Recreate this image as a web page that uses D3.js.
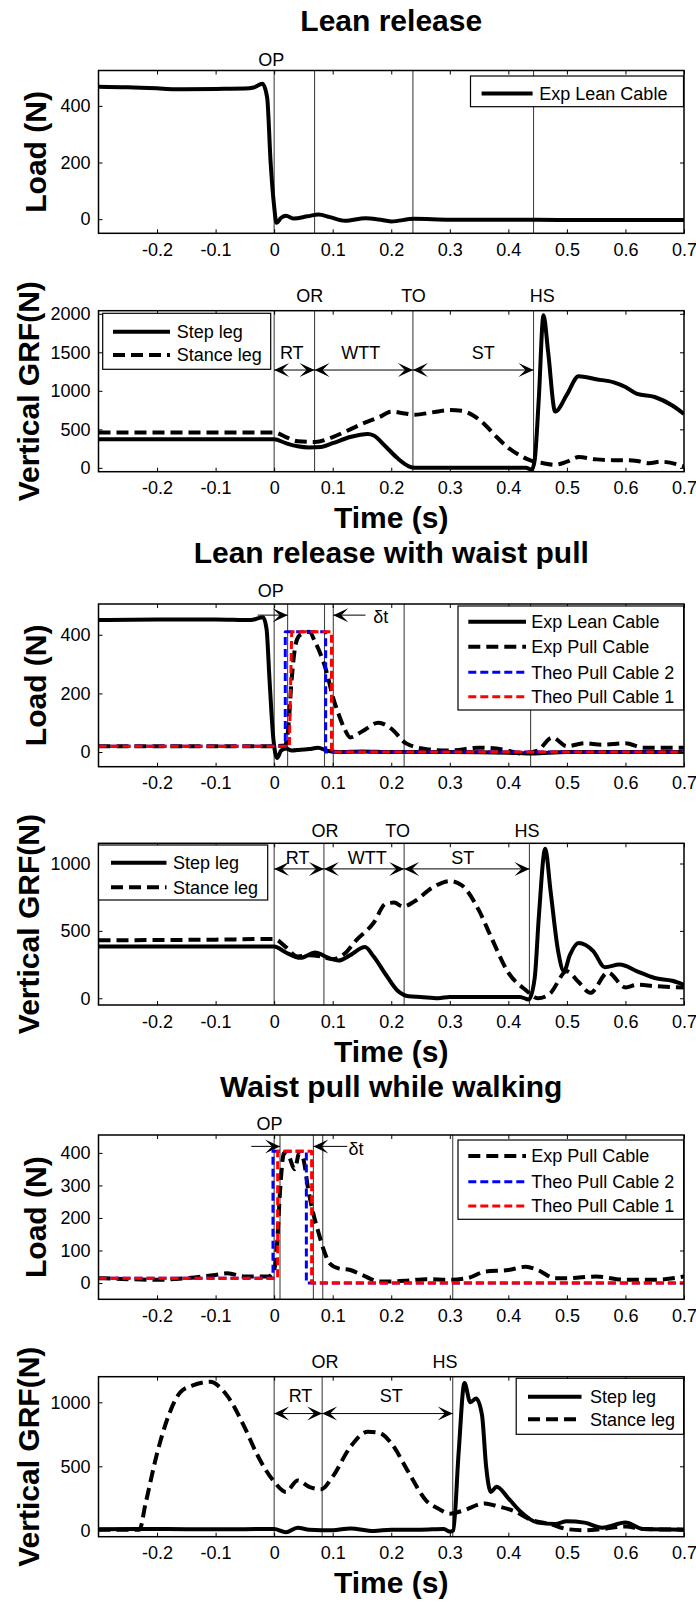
<!DOCTYPE html>
<html>
<head>
<meta charset="utf-8">
<script src="https://cdn.jsdelivr.net/npm/d3@7"></script>
<style>
body { margin: 0; background: #fff; }
text { font-family: "Liberation Sans", Arial, Helvetica, sans-serif; }
</style>
</head>
<body>
<svg id="fig" width="696" height="1602"></svg>
<script>
/**
 * Data (time in s, load / GRF in N)
 */
var xTickValues = [-0.2, -0.1, 0, 0.1, 0.2, 0.3, 0.4, 0.5, 0.6, 0.7];

// (a) Lean release
var p1LeanT = [-0.3,-0.25,-0.2,-0.17,-0.1,-0.05,-0.035,-0.02,-0.012,-0.006,0,0.004,0.012,0.02,0.034,0.057,0.076,0.095,0.121,0.156,0.178,0.2,0.239,0.3,0.4,0.5,0.6,0.7];
var p1Lean  = [468,466,462,459,460,461,465,478,430,200,45,-13,5,12,2,10,16,7,-6,3,-1,-8,1,-2,-2,-3,-3,-3];

var p2StepT = [-0.3,-0.1,0,0.02,0.04,0.06,0.08,0.1,0.13,0.16,0.17,0.19,0.21,0.23,0.24,0.3,0.4,0.43,0.44,0.445,0.452,0.46,0.468,0.48,0.5,0.52,0.55,0.58,0.6,0.62,0.65,0.68,0.7];
var p2Step  = [370,370,370,320,280,265,270,320,400,440,420,280,130,20,0,0,0,0,-25,100,900,1980,1500,730,950,1190,1150,1110,1050,960,920,810,700];
var p2StanceT = [-0.3,-0.1,0,0.02,0.04,0.07,0.1,0.13,0.15,0.18,0.2,0.22,0.24,0.27,0.3,0.32,0.34,0.36,0.38,0.4,0.42,0.44,0.46,0.48,0.5,0.52,0.55,0.58,0.6,0.62,0.64,0.66,0.7];
var p2Stance  = [460,460,460,400,345,335,400,500,570,660,730,710,690,720,750,740,680,560,400,260,160,90,60,40,80,140,110,100,100,90,60,80,20];

// (b) Lean release with waist pull
var p3LeanT = [-0.3,-0.2,-0.1,-0.04,-0.019,-0.013,-0.008,-0.002,0.005,0.012,0.02,0.03,0.045,0.06,0.075,0.09,0.11,0.15,0.2,0.3,0.4,0.44,0.5,0.6,0.7];
var p3Lean  = [450,452,452,450,460,420,250,60,-20,5,12,5,8,10,15,5,0,2,0,0,-2,-5,0,0,0];
var p3PullT = [-0.3,-0.1,0,0.018,0.024,0.03,0.036,0.042,0.05,0.06,0.07,0.08,0.09,0.1,0.11,0.12,0.13,0.15,0.178,0.2,0.225,0.26,0.3,0.35,0.4,0.42,0.45,0.475,0.5,0.53,0.56,0.6,0.63,0.7];
var p3Pull  = [20,20,20,22,80,250,360,395,405,410,375,330,270,190,130,80,50,70,100,80,30,10,5,15,5,-5,5,50,20,30,25,30,15,15];
var p3Theo2T = [-0.3,0.019,0.019,0.088,0.088,0.7];
var p3Theo2  = [20,20,410,410,0,0];
var p3Theo1T = [-0.3,0.026,0.030,0.098,0.098,0.7];
var p3Theo1  = [20,20,410,410,0,0];

var p4StepT = [-0.3,-0.1,0,0.02,0.045,0.07,0.09,0.11,0.13,0.155,0.17,0.19,0.21,0.23,0.25,0.28,0.3,0.35,0.42,0.435,0.445,0.452,0.463,0.472,0.485,0.495,0.505,0.52,0.545,0.565,0.59,0.62,0.65,0.68,0.7];
var p4Step  = [385,385,385,340,300,340,305,280,320,380,310,180,60,15,10,0,10,10,10,-10,150,600,1110,800,350,200,320,410,350,230,250,200,150,130,100];
var p4StanceT = [-0.3,-0.1,0,0.02,0.04,0.06,0.08,0.1,0.12,0.14,0.17,0.19,0.205,0.22,0.24,0.27,0.3,0.32,0.35,0.37,0.4,0.43,0.45,0.47,0.5,0.52,0.54,0.57,0.6,0.62,0.65,0.7];
var p4Stance  = [430,435,440,380,310,320,310,290,330,430,560,700,710,680,720,820,870,840,650,460,190,60,0,30,200,120,40,190,80,100,90,80];

// (c) Waist pull while walking
var p5PullT = [-0.3,-0.25,-0.2,-0.15,-0.1,-0.08,-0.05,-0.01,0,0.005,0.01,0.017,0.025,0.035,0.043,0.05,0.058,0.066,0.075,0.085,0.095,0.11,0.13,0.15,0.18,0.2,0.23,0.26,0.3,0.33,0.36,0.4,0.43,0.45,0.48,0.5,0.55,0.6,0.65,0.7];
var p5Pull  = [15,12,10,15,25,30,20,20,40,120,280,400,390,350,400,380,290,220,160,100,60,45,40,25,5,5,8,12,10,15,35,40,50,40,15,15,20,10,10,20];
var p5Theo2T = [-0.3,-0.002,-0.002,0.055,0.055,0.7];
var p5Theo2  = [15,15,405,405,0,0];
var p5Theo1T = [-0.3,0.006,0.006,0.064,0.064,0.7];
var p5Theo1  = [15,15,405,405,0,0];

var p6StepT = [-0.3,-0.2,-0.1,0,0.02,0.04,0.06,0.1,0.13,0.17,0.2,0.25,0.29,0.3,0.306,0.315,0.325,0.335,0.345,0.355,0.362,0.37,0.38,0.4,0.42,0.45,0.48,0.5,0.53,0.56,0.6,0.63,0.7];
var p6Step  = [8,10,8,10,-15,20,5,0,15,-5,5,5,10,-10,0,600,1150,1000,1030,900,500,300,340,250,150,60,50,70,60,20,60,10,5];
var p6StanceT = [-0.3,-0.25,-0.23,-0.22,-0.2,-0.18,-0.16,-0.14,-0.11,-0.08,-0.05,-0.03,0,0.02,0.04,0.06,0.08,0.1,0.13,0.16,0.18,0.2,0.23,0.26,0.28,0.3,0.32,0.36,0.38,0.41,0.44,0.47,0.5,0.53,0.56,0.6,0.63,0.7];
var p6Stance  = [5,5,5,200,600,900,1080,1130,1160,1050,800,600,380,300,390,340,320,420,650,770,760,680,450,230,170,130,150,210,190,150,80,50,10,0,10,30,10,5];

// event markers
var p1Events = [0, 0.069, 0.237, 0.443];
var p3Events = [0, 0.023, 0.086, 0.101, 0.222, 0.438];
var p4Events = [0, 0.085, 0.222, 0.436];
var p5Events = [0, 0.01, 0.067, 0.083, 0.305];
var p6Events = [0, 0.082, 0.305];

/**
 * Line styles
 */
var solidStyle  = {color: "#000", width: 4, dash: null};
var dashStyle   = {color: "#000", width: 4, dash: "12,6"};
var blueStyle   = {color: "#0000ff", width: 3, dash: "8,4"};
var redStyle    = {color: "#ff0000", width: 3, dash: "8,4"};

var svg = d3.select("#fig");
var xScale = d3.scaleLinear().domain([-0.3, 0.7]).range([98.5, 684]);

function fmt(d) { return String(+d.toFixed(1)); }

function arrowHead(g, x, y, dir) {
    var L = 15, W = 7, ind = 7;
    g.append("path")
        .attr("d", "M" + x + "," + y +
            "L" + (x - dir * L) + "," + (y - W) +
            "L" + (x - dir * (L - ind)) + "," + y +
            "L" + (x - dir * L) + "," + (y + W) + "Z")
        .style("fill", "#000");
}

function drawPanel(p) {
    var x = xScale;
    var y = d3.scaleLinear().domain(p.yDomain).range([p.bottom, p.top]);
    var g = svg.append("g");
    var x0 = x.range()[0], x1 = x.range()[1];

    g.append("clipPath").attr("id", "clip" + p.id)
        .append("rect")
        .attr("x", x0).attr("y", p.top)
        .attr("width", x1 - x0).attr("height", p.bottom - p.top);

    if (p.title) {
        g.append("text")
            .attr("x", (x0 + x1) / 2).attr("y", p.titleY)
            .attr("text-anchor", "middle")
            .style("font-size", "30px").style("font-weight", "bold")
            .text(p.title);
    }

    // event lines
    g.selectAll(".ev").data(p.events).enter().append("line")
        .attr("x1", function(d){ return x(d); })
        .attr("x2", function(d){ return x(d); })
        .attr("y1", p.top).attr("y2", p.bottom)
        .style("stroke", "#444").style("stroke-width", 1.1);

    // curves
    var plot = g.append("g").attr("clip-path", "url(#clip" + p.id + ")");
    p.series.forEach(function(s) {
        var line = d3.line()
            .x(function(d){ return x(d[0]); })
            .y(function(d){ return y(d[1]); })
            .curve(s.step ? d3.curveLinear : d3.curveMonotoneX);
        plot.append("path")
            .datum(d3.zip(s.t, s.v))
            .attr("d", line)
            .style("fill", "none")
            .style("stroke", s.style.color)
            .style("stroke-width", s.style.width)
            .style("stroke-dasharray", s.style.dash)
            .style("stroke-linejoin", "round");
    });

    // axes, ticks pointing inward on all four sides
    g.append("g")
        .attr("transform", "translate(0," + p.bottom + ")")
        .call(d3.axisBottom(x).tickValues(xTickValues).tickFormat(fmt)
            .tickSizeInner(-4).tickSizeOuter(0).tickPadding(10));
    g.append("g")
        .attr("transform", "translate(0," + p.top + ")")
        .call(d3.axisTop(x).tickValues(xTickValues).tickFormat("")
            .tickSizeInner(-4).tickSizeOuter(0));
    g.append("g")
        .attr("transform", "translate(" + x0 + ",0)")
        .call(d3.axisLeft(y).tickValues(p.yTicks).tickFormat(d3.format("d"))
            .tickSizeInner(-4).tickSizeOuter(0).tickPadding(8));
    g.append("g")
        .attr("transform", "translate(" + x1 + ",0)")
        .call(d3.axisRight(y).tickValues(p.yTicks).tickFormat("")
            .tickSizeInner(-4).tickSizeOuter(0));
    g.selectAll(".domain").remove();
    g.selectAll(".tick line").style("stroke", "#000");
    g.selectAll(".tick text")
        .style("font-size", "18px")
        .style("font-family", '"Liberation Sans", Arial, sans-serif')
        .style("fill", "#000");

    g.append("rect")
        .attr("x", x0).attr("y", p.top)
        .attr("width", x1 - x0).attr("height", p.bottom - p.top)
        .style("fill", "none").style("stroke", "#000").style("stroke-width", 1.5);

    // labels of events above the axes
    p.eventLabels.forEach(function(e) {
        g.append("text")
            .attr("x", x(e.t)).attr("y", p.eventLabelY)
            .attr("text-anchor", "middle")
            .style("font-size", "18px")
            .text(e.text);
    });

    // double arrows spanning phases
    (p.spans || []).forEach(function(s) {
        var yy = y(p.spanLevel), xa = x(s[0]), xb = x(s[1]);
        g.append("line").attr("x1", xa).attr("x2", xb).attr("y1", yy).attr("y2", yy)
            .style("stroke", "#000").style("stroke-width", 1);
        arrowHead(g, xa, yy, -1);
        arrowHead(g, xb, yy, 1);
    });
    (p.spanLabels || []).forEach(function(s) {
        g.append("text")
            .attr("x", x(s.t)).attr("y", y(s.v)).attr("dy", "0.35em")
            .attr("text-anchor", "middle")
            .style("font-size", "18px")
            .text(s.text);
    });

    // single arrows (OP, delta t)
    (p.arrows || []).forEach(function(a) {
        var yy = y(a.v), xa = x(a.from), xb = x(a.to);
        g.append("line").attr("x1", xa).attr("x2", xb).attr("y1", yy).attr("y2", yy)
            .style("stroke", "#000").style("stroke-width", 1);
        arrowHead(g, xb, yy, xb > xa ? 1 : -1);
    });
    (p.notes || []).forEach(function(n) {
        g.append("text")
            .attr("x", x(n.t)).attr("y", y(n.v)).attr("dy", "0.35em")
            .attr("text-anchor", "middle")
            .style("font-size", "18px")
            .text(n.text);
    });

    // legend
    var lg = p.legend;
    g.append("rect")
        .attr("x", lg.x).attr("y", lg.y).attr("width", lg.w).attr("height", lg.h)
        .style("fill", "#fff").style("stroke", "#000").style("stroke-width", 1.2);
    lg.items.forEach(function(it, i) {
        var yy = lg.rows[i];
        g.append("line")
            .attr("x1", lg.lineX[0]).attr("x2", lg.lineX[1])
            .attr("y1", yy).attr("y2", yy)
            .style("stroke", it.style.color)
            .style("stroke-width", it.style.width)
            .style("stroke-dasharray", it.style.dash);
        g.append("text")
            .attr("x", lg.textX).attr("y", yy).attr("dy", "0.35em")
            .style("font-size", "18px")
            .text(it.name);
    });

    // axis titles
    g.append("text")
        .attr("transform", "translate(" + p.yLabelX + "," + ((p.top + p.bottom) / 2) + ") rotate(-90)")
        .attr("text-anchor", "middle")
        .style("font-size", "30px").style("font-weight", "bold")
        .text(p.yLabel);
    if (p.xLabelY) {
        g.append("text")
            .attr("x", (x0 + x1) / 2).attr("y", p.xLabelY)
            .attr("text-anchor", "middle")
            .style("font-size", "30px").style("font-weight", "bold")
            .text("Time (s)");
    }
}

var grfLegend = [{name: "Step leg", style: solidStyle}, {name: "Stance leg", style: dashStyle}];

drawPanel({
    id: 1, top: 70.5, bottom: 233.3, yDomain: [-50, 525], yTicks: [0, 200, 400],
    title: "Lean release", titleY: 30.7,
    yLabel: "Load (N)", yLabelX: 46,
    events: p1Events,
    eventLabels: [{t: -0.005, text: "OP"}], eventLabelY: 66,
    series: [{t: p1LeanT, v: p1Lean, style: solidStyle}],
    legend: {x: 470.5, y: 76, w: 213, h: 30.7, lineX: [481.6, 532.6], textX: 539.3, rows: [93.5],
        items: [{name: "Exp Lean Cable", style: solidStyle}]}
});

drawPanel({
    id: 2, top: 310.7, bottom: 471.7, yDomain: [-50, 2040], yTicks: [0, 500, 1000, 1500, 2000],
    yLabel: "Vertical GRF(N)", yLabelX: 39, xLabelY: 528,
    events: p1Events,
    eventLabels: [{t: 0.061, text: "OR"}, {t: 0.238, text: "TO"}, {t: 0.458, text: "HS"}], eventLabelY: 301.7,
    spans: [[0, 0.069], [0.069, 0.237], [0.237, 0.443]], spanLevel: 1270,
    spanLabels: [{t: 0.030, v: 1490, text: "RT"}, {t: 0.148, v: 1490, text: "WTT"}, {t: 0.357, v: 1490, text: "ST"}],
    series: [{t: p2StepT, v: p2Step, style: solidStyle}, {t: p2StanceT, v: p2Stance, style: dashStyle}],
    legend: {x: 102.7, y: 313.3, w: 168, h: 56, lineX: [113, 170], textX: 176.7, rows: [331.7, 355], items: grfLegend}
});

drawPanel({
    id: 3, top: 604, bottom: 766.7, yDomain: [-50, 505], yTicks: [0, 200, 400],
    title: "Lean release with waist pull", titleY: 563,
    yLabel: "Load (N)", yLabelX: 46,
    events: p3Events,
    eventLabels: [{t: -0.006, text: "OP"}], eventLabelY: 597,
    arrows: [{from: -0.028, to: 0.023, v: 467}, {from: 0.156, to: 0.101, v: 467}],
    notes: [{t: 0.182, v: 462, text: "\u03b4t"}],
    series: [
        {t: p3LeanT, v: p3Lean, style: solidStyle},
        {t: p3PullT, v: p3Pull, style: dashStyle},
        {t: p3Theo2T, v: p3Theo2, style: blueStyle, step: true},
        {t: p3Theo1T, v: p3Theo1, style: redStyle, step: true}
    ],
    legend: {x: 458, y: 606, w: 225.6, h: 104, lineX: [468.3, 526], textX: 531.3, rows: [621.7, 646.7, 672.2, 696.7],
        items: [{name: "Exp Lean Cable", style: solidStyle}, {name: "Exp Pull Cable", style: dashStyle},
            {name: "Theo Pull Cable 2", style: blueStyle}, {name: "Theo Pull Cable 1", style: redStyle}]}
});

drawPanel({
    id: 4, top: 843.3, bottom: 1005, yDomain: [-50, 1150], yTicks: [0, 500, 1000],
    yLabel: "Vertical GRF(N)", yLabelX: 39, xLabelY: 1062,
    events: p4Events,
    eventLabels: [{t: 0.087, text: "OR"}, {t: 0.211, text: "TO"}, {t: 0.432, text: "HS"}], eventLabelY: 837,
    spans: [[0, 0.085], [0.085, 0.222], [0.222, 0.436]], spanLevel: 960,
    spanLabels: [{t: 0.040, v: 1040, text: "RT"}, {t: 0.159, v: 1040, text: "WTT"}, {t: 0.322, v: 1040, text: "ST"}],
    series: [{t: p4StepT, v: p4Step, style: solidStyle}, {t: p4StanceT, v: p4Stance, style: dashStyle}],
    legend: {x: 98.5, y: 845, w: 169.2, h: 55, lineX: [111, 166.5], textX: 173, rows: [862.7, 887.3], items: grfLegend}
});

drawPanel({
    id: 5, top: 1135, bottom: 1299.3, yDomain: [-50, 455], yTicks: [0, 100, 200, 300, 400],
    title: "Waist pull while walking", titleY: 1097,
    yLabel: "Load (N)", yLabelX: 46,
    events: p5Events,
    eventLabels: [{t: -0.008, text: "OP"}], eventLabelY: 1130,
    arrows: [{from: -0.039, to: 0.01, v: 420}, {from: 0.125, to: 0.067, v: 420}],
    notes: [{t: 0.140, v: 413, text: "\u03b4t"}],
    series: [
        {t: p5PullT, v: p5Pull, style: dashStyle},
        {t: p5Theo2T, v: p5Theo2, style: blueStyle, step: true},
        {t: p5Theo1T, v: p5Theo1, style: redStyle, step: true}
    ],
    legend: {x: 458, y: 1140, w: 225.6, h: 79.3, lineX: [468.3, 526], textX: 531.3, rows: [1156, 1181.7, 1206],
        items: [{name: "Exp Pull Cable", style: dashStyle},
            {name: "Theo Pull Cable 2", style: blueStyle}, {name: "Theo Pull Cable 1", style: redStyle}]}
});

drawPanel({
    id: 6, top: 1376.7, bottom: 1536.7, yDomain: [-50, 1200], yTicks: [0, 500, 1000],
    yLabel: "Vertical GRF(N)", yLabelX: 39, xLabelY: 1593,
    events: p6Events,
    eventLabels: [{t: 0.087, text: "OR"}, {t: 0.292, text: "HS"}], eventLabelY: 1368,
    spans: [[0, 0.082], [0.082, 0.305]], spanLevel: 912,
    spanLabels: [{t: 0.045, v: 1050, text: "RT"}, {t: 0.2, v: 1050, text: "ST"}],
    series: [{t: p6StepT, v: p6Step, style: solidStyle}, {t: p6StanceT, v: p6Stance, style: dashStyle}],
    legend: {x: 516.2, y: 1378.3, w: 167.4, h: 56, lineX: [528, 581.5], textX: 590, rows: [1396.7, 1419.3], items: grfLegend}
});
</script>
</body>
</html>
